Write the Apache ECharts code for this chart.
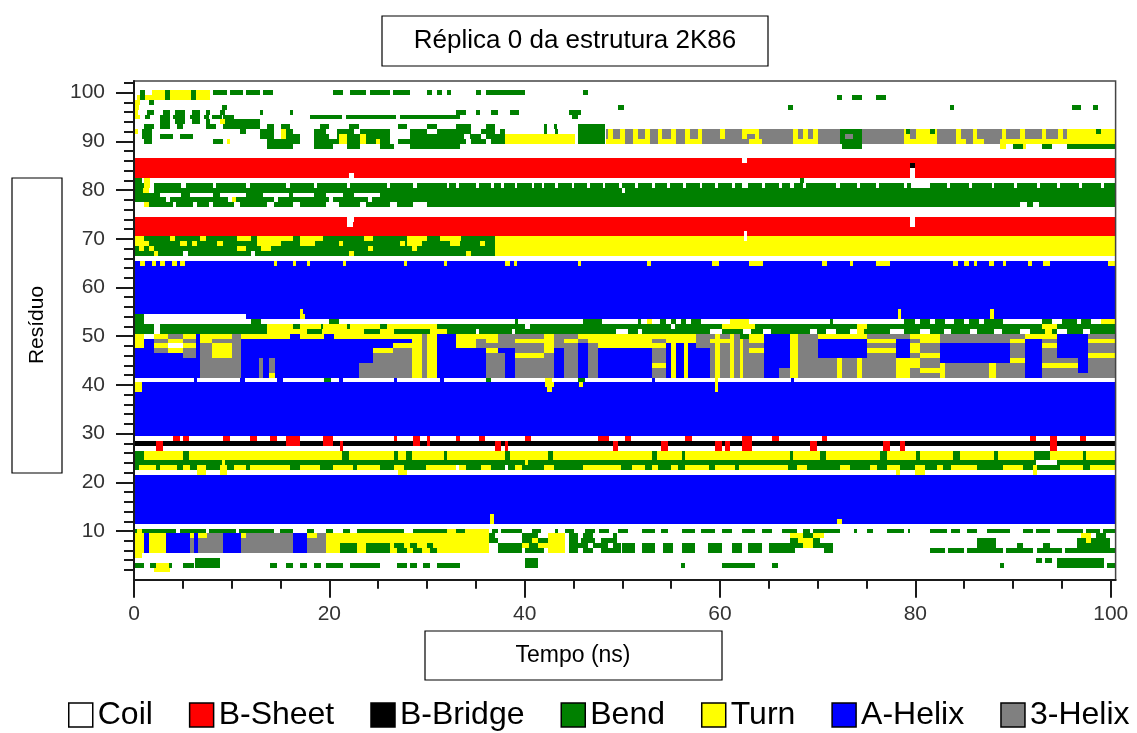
<!DOCTYPE html>
<html><head><meta charset="utf-8">
<script src="https://cdn.jsdelivr.net/npm/echarts@6/dist/echarts.min.js"></script>
<style>html,body{margin:0;padding:0;background:#fff}#chart{width:1137px;height:733px}</style>
</head><body><div id="chart"></div>
<script>
// ---------------- DATA ----------------
const stateCodes = ['C', 'E', 'B', 'S', 'T', 'H', 'G'];
const stateNames = ['Coil', 'B-Sheet', 'B-Bridge', 'Bend', 'Turn', 'A-Helix', '3-Helix'];
const timeTicks = [0, 20, 40, 60, 80, 100];
const timeMinorTicks = [5, 10, 15, 25, 30, 35, 45, 50, 55, 65, 70, 75, 85, 90, 95];
const residueTicks = [10, 20, 30, 40, 50, 60, 70, 80, 90, 100];
const residueMinorTicks = [2, 4, 6, 8, 12, 14, 16, 18, 22, 24, 26, 28, 32, 34, 36, 38, 42, 44, 46, 48, 52, 54, 56, 58, 62, 64, 66, 68, 72, 74, 76, 78, 82, 84, 86, 88, 92, 94, 96, 98, 102];

// each row: "<base state>|<state><from ns>-<to ns> ..." (later segments override earlier ones)
const rows01to10 = [
  "C|",
  "C|T2-3.7",
  "C|S0.1-1 S1.6-2.3 T2.3-3.6 S3.6-3.9 S5-6.1 S6.2-8.8 S13.9-14.6 S15.6-16.3 S17-17.7 S18.4-19.1 S19.7-21.4 S22.1-25.2 S26.9-27.9 S28.3-29 S29.6-30.3 S31-33.4 S40-41.4 S56-56.4 S60.2-63.6 S65.3-65.9 S88.7-89.1 S94.5-99.3 S99.6-100",
  "C|S6.2-8.8 S40-41.4 S92.4-93 S93.3-94 S94.5-99.3",
  "C|T0-0.8",
  "C|T0-1 H1-1.5 T1.5-3.3 H3.3-5.7 G5.7-6.1 H6.1-6.6 G6.6-9.1 H9.1-11 G11-16.3 H16.3-17.7 G17.7-19.7 T19.7-21.1 S21.1-22.8 T22.8-23.8 S23.8-26.2 T26.2-26.9 S26.9-27.9 T27.9-28.6 S28.6-29.5 T29.5-30.3 S30.3-31 T31-36.3 S37.3-39.7 S40-42 T42.4-44.1 S44.5-45.5 S46-47 S47.8-49.9 S50-51.3 S52-53.3 S54.2-55.2 S56.1-57.4 S58.8-60.2 S61.2-62.2 S62.9-64.3 S65-67.7 S70.6-71.6 S81.5-83 S83.3-85 S85.3-89 S89.3-92 S92.5-95 S95.3-100",
  "C|T0-1 H1-1.5 T1.5-3.3 H3.3-5.7 G5.7-6.1 H6.1-6.6 G6.6-9.1 H9.1-11 G11-16.3 H16.3-17.7 G17.7-19.7 T19.7-21.1 S21.1-22.8 T22.8-23.8 S23.8-26.2 T26.2-26.6 S26.6-27.6 T27.6-28.3 S28.3-29 T29-30 S30-30.6 T30.6-36.3 S37.3-39.7 T39.7-40.4 S40.4-41.4 T41.4-44.1 S44.5-45.5 S45.5-46.5 S47-48.5 S49-49.9 S50-51.3 S52-53.3 S54.2-55.2 S56.1-57.4 S58.8-60.2 S61.2-62.2 S62.9-64.3 S65-67.7 S67.7-68.5 T68.5-69.5 S69.5-71.6 S86.3-88.3 S90.4-91 S93.1-93.8 S96.5-99.9",
  "C|T0-1 H1-1.5 T1.5-3.3 H3.3-5.7 G5.7-6.1 H6.1-6.6 G6.6-9.1 H9.1-11 G11-16.3 H16.3-17.7 G17.7-19.7 T19.7-36.3 S36.3-37.3 S39.7-40.7 T40.7-41.4 S41.4-42.4 T42.4-44.1 S44.5-45.5 S45.8-47.2 S47.8-49.5 S67.2-68 T68-69.5 S69.5-70.2 S86.3-88.3 S96.5-97.5 T97.5-98 S98-99.9",
  "C|T0-1 H1-1.5 T1.5-3.3 H3.3-5.7 T5.7-6.1 H6.1-6.6 T6.6-7.5 G7.5-9.1 H9.1-11 T11-11.5 G11.5-16.3 H16.3-17.7 T17.7-18.7 G18.7-19.7 T19.7-36.3 S36.3-37 S39.7-41.4 T42.4-44.1 S44.5-45.5 S46-47 S49-49.5 T67.2-68.5 S68.5-69.5 T69.5-70.6 T97-98 S98.5-99.5",
  "C|S0-0.3 T0.3-0.8 S0.8-4.3 S4.7-7.4 S7.7-10.4 S10.8-14.3 S14.9-16.3 S17.7-18.4 S19.7-20.4 S21.4-22.1 S22.8-27.6 S28.6-32 T32-36.3 S33-33.9 S36.7-37.3 S37.6-39.7 S40.7-41.7 S43.1-43.4 S44.1-45.1 S46.2-47.2 S47.6-48.6 S49.6-50.6 S52-53.3 S54-54.7 S56.1-57.4 S58.1-59.5 S60.2-61.2 S62.2-63.6 S64.3-65.3 S66.3-67.9 S68.5-69.2 S69.5-72.3 S73.7-74 S75-75.7 S77.1-78.8 S79.2-79.5 S81.5-83.2 S83.6-84.6 S85.3-86.3 S87.3-89.7 S91-92 S92.3-93.8 S94.5-97.2 S97.5-98.9 S99.2-100"
];
const rows11to20 = [
  "C|",
  "H|T36.4-36.9 T72-72.5",
  "H|T36.4-36.9",
  "H|", "H|", "H|", "H|", "H|", "H|", "H|"
];
const rows21to30 = [
  "H|",
  "C|T6.4-7.4 T8.8-9.5 T27-28 T78-78.4 T80-81 T92-92.5",
  "S|T0.5-2.3 T2.7-4.4 T5-5.7 T6.4-7.4 T8.8-9.5 T10.2-11.5 T11.9-16 T17-19 T20.4-22.4 T22.8-25.2 T26.6-27.6 T29.9-34 T35.5-36.5 T39-39.7 T42-43 T46-49.9 T51-52.3 T53-53.7 T55-55.7 T56.4-58.9 T59.5-61.5 T61.9-67 T67.9-68.9 T72.3-73.3 T75.4-76.1 T77.1-78.4 T80-81 T82.2-82.8 T83.6-86.3 T89-91 T92-92.5 T94.8-97.2 T97.9-100 C33-33.3 C38-38.3",
  "S|C92.4-94.5 T9-9.3 T40-40.3",
  "T|S0-1 S5-5.6 S21.3-22 S26.6-27 S27.8-28.5 S31.7-32 S38-38.5 S42.4-42.9 S53-53.5 S56.1-56.4 S67.2-67.5 S70.2-70.9 S76.4-77.1 S80.1-80.5 S83.9-84.6 S88-88.5 S92.1-93.8 S97.2-97.5",
  "T|S0-1 S5-5.6 S21.3-22 S26.6-27 S27.8-28.5 S31.7-32 S38-38.5 S42.4-42.9 S53-53.5 S56.1-56.4 S67.2-67.5 S70.2-70.9 S76.4-77.1 S80.1-80.5 S83.9-84.6 S88-88.5 S92.1-93.8 S97.2-97.5",
  "C|E2.3-3 E21.1-21.4 E37-37.6 E38-38.3 E49-49.6 E54-54.7 E59.5-60.2 E60.5-61 E62.3-63.3 E69.2-69.9 E76.7-77.4 E78.4-78.9 E93.8-94.5",
  "B|E2.3-3 E15.6-17 E19.4-20.4 E21.1-21.4 E28.6-29.3 E30-30.3 E37-37.6 E38-38.3 E49-49.6 E54-54.7 E59.5-60.2 E60.5-61 E62.3-63.3 E69.2-69.9 E76.7-77.4 E78.4-78.9 E93.8-94.5",
  "C|E4-4.7 E5-5.6 E9.1-9.8 E11.9-12.6 E13.9-14.6 E15.6-17 E19.4-20.4 E26.6-26.9 E28.6-29.3 E30-30.3 E33-33.4 E35.3-35.9 E40-40.6 E47.5-48.6 E50.3-50.9 E56.4-57.1 E62.3-63.3 E65.3-66 E70.4-71 E91.7-92.4 E93.8-94.5 E96.9-97.5",
  "H|"
];
const rows31to41 = [
  "H|", "H|", "H|", "H|", "H|", "H|", "H|", "H|",
  "H|T0-0.8 T42.3-42.8 T59.5-59.8",
  "H|T0-0.8 T42.1-43 T45.6-46 T59.5-59.8",
  "C|H6.1-6.4 H10.9-11.4 H14.6-15.3 S19.5-20.2 H21-21.4 H26.6-26.9 H31.3-31.7 S36-36.6 T42.1-42.8 S45.5-46.2 H53-53.3 T59.5-59.8 H67.3-67.6"
];
// residues 42-50: [from ns, to ns, states of residues 50,49,48,47,46,45,44,43,42]
const mixedBlock42to50 = [
  [0, 1, "TTTHHHHHH"], [1, 2, "CHHHHHHHH"], [2, 3.5, "TGTGHHHHH"], [3.5, 5, "GTCTHHHHH"],
  [5, 6.3, "TGTGGHHHH"], [6.3, 6.8, "HHHHHHHHH"], [6.8, 8, "TTGGGGGGG"], [8, 10, "TGTTTGGGG"],
  [10, 11, "GGGGGGGGG"], [11, 12.8, "THHHHHHHH"], [12.8, 13.2, "THHHHGGGG"], [13.2, 13.8, "THHHHHHHH"],
  [13.8, 14.4, "THHHHGGGT"], [14.4, 16, "THHHHHHHH"], [16, 17, "HHHHHHHHH"], [17, 19.5, "THHHHHHHH"],
  [19.5, 20.5, "HHHHHHHHH"], [20.5, 23, "THHHHHHHH"], [23, 24.5, "THHHHHGGG"], [24.5, 26.5, "THHTGGGGG"],
  [26.5, 28.5, "THTGGGGGG"], [28.5, 29.5, "TTTTTTTTT"], [29.5, 30, "GGGGGGGGG"], [30, 31, "TTTTTTTTT"],
  [31, 33, "HHHHHHHHH"], [33, 35, "TTTHHHHHH"], [35, 36, "TGGHHHHHH"], [36, 37.3, "TTGTGGGGG"],
  [37.3, 38, "GGGHGGGGG"], [38, 39, "GGGHHHHHH"], [39, 42, "GTGGTGGGG"], [42, 43, "TTTTGGGGG"],
  [43, 44, "GGGHHHHHH"], [44, 45.5, "GTGGGGGGG"], [45.5, 46.5, "TGHHHHHHH"], [46.5, 47.5, "TTGGGGGGG"],
  [47.5, 53, "TTTHHHHHH"], [53, 54.5, "TGTGGGTGG"], [54.5, 55, "TTHHHHHHH"], [55, 55.5, "TTTTTTTTT"],
  [55.5, 56.3, "TTHHHHHHH"], [56.3, 56.7, "TTTTTTTTT"], [56.7, 57.5, "TTHHHHHHH"], [57.5, 59, "GGGHHHHHH"],
  [59, 59.5, "GTGGGGGGG"], [59.5, 60, "TTTTTTTTT"], [60, 61, "GTGGGGGGG"], [61, 61.4, "TTTTTTTTT"],
  [61.4, 62, "GGGGGGGGG"], [62, 62.4, "STTTTTTTT"], [62.4, 63, "SGGGGGGGG"], [63, 64.5, "TTGTGGGGG"],
  [64.5, 66, "HHHHHHHHH"], [66, 67.2, "HHHHHHHGG"], [67.2, 68, "TTTTTTTTT"], [68, 70, "GGGGGGGGG"],
  [70, 72, "THHHHGGGG"], [72, 72.5, "THHHHTTTT"], [72.5, 74, "THHHHGGGG"], [74, 74.5, "THHHHTTTT"],
  [74.5, 75, "THHHHGGGG"], [75, 78, "GTGTGGGGG"], [78, 79.4, "GHHHHTTTT"], [79.4, 80.5, "TGTTGTTGG"],
  [80.5, 82.5, "TTGGTGGTG"], [82.5, 83, "GGHHHHTTT"], [83, 87.5, "GGHHHHGGG"], [87.5, 88.3, "GGHHHHTTT"],
  [88.3, 89.7, "GGHHHHGGG"], [89.7, 91.2, "GTGGGTGGG"], [91.2, 93, "THHHHHHHH"], [93, 94.5, "TGTGGGTGG"],
  [94.5, 96.7, "HHHHHGTGG"], [96.7, 97.7, "HHHHHHHHG"], [97.7, 100, "GTGGTGGGG"]
];
const rows51to60 = [
  "S|C2-2.7 T13.6-17.7 T19.2-23.5 T25.2-26.6 T30.3-32 C35-35.3 C38.7-39 C49.3-50.6 C51.6-52 C59-60.2 C62.4-63.2 C64.4-65.2 C69.2-69.9 C70.9-71.9 C73.3-74 T74-74.7 C77.4-78.8 C80.5-81.5 C82.9-83.6 C85.6-86.3 C88-88.9 C90.7-91.7 T93.3-94 C94.5-95.5 C97.2-97.9",
  "S|C2-2.7 T13.6-16.3 T17-19.1 T19.4-21.8 T22.1-25.2 T25.9-31 C40-40.5 C55-55.4 T60.2-63.6 T74-75 T93-94.5",
  "C|S0-1 S12-13 S20-21 S39-39.3 S46-47.9 S51.6-51.9 T52.5-53 S53.9-54.5 S55-55.5 S56-56.5 S57-58.1 T61-63 S71.3-71.6 S78.8-80 S80.5-81.5 S82-83 S84-85 S85.5-86.5 S87-89 S93-94 S95-96.5 S97-98 T99-100",
  "H|S0-1 C1-11.5 T17-17.5 T78.2-78.5 T87.6-88",
  "H|T17-17.3 T78.2-78.5 T87.6-88",
  "H|", "H|", "H|", "H|", "H|"
];
const rows61to70 = [
  "H|", "H|", "H|", "H|",
  "H|T0.6-1.1 T1.8-2.3 T2.7-3.2 T3.9-4.4 T4.7-5.2 T14.3-14.6 T16.3-16.6 T17.7-18 T21.4-21.7 T27.6-27.9 T31.7-32 T38-38.5 T38.9-39.2 T45.5-45.8 T52.5-52.9 T59.2-59.9 T63-64.4 T70.4-71 T73.3-73.6 T76-77.4 T83.9-84.4 T85-85.5 T86-86.3 T87.5-88 T89-89.3 T91.5-91.9 T93.1-93.8 T99.7-100",
  "C|",
  "S|T2-2.5 C5-5.5 C12-12.4 T22-22.5 T34-34.5 T37-100",
  "S|T0.5-1 T1.5-2 T10.5-11.5 T13-14 T24-24.5 T28.5-29 T37-100",
  "S|T0-1.5 T4.7-5.4 T5.9-6.4 T8.5-9.1 T12.6-15 T17-18.5 T21-21.4 T27.2-27.7 T28-29.5 T32.4-33.4 T35.4-35.9 T37-100",
  "S|T0-1 T3.7-4.2 T6.8-7.4 T10.5-12 T12.6-16.3 T17-19.4 T23.5-24.5 T27.9-30 T31.3-33.5 T37-100 C62.5-62.8"
];
const rows71to80 = [
  "E|C62.5-62.8",
  "E|",
  "E|C21.8-22.4 C79.5-80",
  "E|C21.8-22.5 C79.5-80",
  "C|",
  "C|",
  "S|C0-1 T1-1.5 C4-4.3 C6-6.5 C7.7-8.1 C10.2-10.9 C13.6-14.3 C16.3-17 C19.7-21 C23.1-23.8 C26.2-26.9 C28.6-30 C90.7-91.4 C92-92.7",
  "S|C3.3-3.7 C9.6-10 T10-10.4 C14.3-14.7 C20-20.4 C24-24.4",
  "S|C2.7-4.8 C5.7-8.1 C8.8-11.5 C13.2-15.9 C16.3-18.4 C19.7-21.4 C22.5-25.2",
  "S|T0.9-1.5 C1.5-2 C50-50.3"
];
const rows81to90 = [
  "S|T1-1.6 C1.6-2 C4.8-5.3 C8.1-8.4 C11.5-11.9 C15.6-16 C18.4-18.7 C21.8-22.1 C25.9-26.2 C28.6-29 C32-32.3 C33-33.3 C35-35.3 C36.6-36.9 C37.6-37.9 C39-39.2 C40.7-41 C41.8-42 C43.1-43.4 C44.8-45 C46.4-46.7 C48-48.2 C49.7-50 C51.3-51.6 C53-53.3 C54.6-54.9 C56.2-56.5 C57.9-58.2 C59.5-59.8 C61.2-61.5 C62.3-62.9 C64.3-64.6 C66-66.3 C67.2-67.6 C68.5-68.8 C71.9-72.3 C74-74.3 C76-76.3 C78.8-79.1 C79.6-81.5 C83.2-83.5 C85.5-85.8 C87.8-88.1 C90.1-90.4 C92.5-92.8 C94.5-94.8 C96.8-97.1 C99-99.3",
  "C|S0-0.8 T1-1.6 S68.2-68.6",
  "E|C22-22.5 C79.5-80",
  "E|C79.5-80",
  "E|B79.5-80",
  "E|C62.3-62.8",
  "C|",
  "C|",
  "C|S13.6-16.3 S18.4-20.4 S21.8-23.1 S25.2-26.6 S28.3-33.4 S72.5-74.5 T88.7-89.3 S90-91 T91-91.3 S93-94 S95.5-100",
  "C|S1-1.8 S8.1-9.1 T9.5-9.8 S13.6-33.4 C17-18.4 C26.2-27 T21-21.8 T23.1-23.8 T24.8-25.2 S33-38 C34-34.5 C36-36.6 T38-45.2 S45.5-48.2 T48.3-50.3 G50.3-51.1 T51.1-52.8 G52.8-53.6 T53.6-55.5 G55.5-56.4 T56.4-58.2 G58.2-63 T63-64.3 G64.3-67.5 T67.5-70 G70-72.3 S72.3-74.5 G74.5-78.8 T78.8-82.2 G82.2-84.2 T84.2-85.2 G85.2-85.9 T85.9-87 G87-88.7 T88.7-100"
];
const rows91to101 = [
  "C|S0.8-1.8 S2.7-4 S4.7-6 S12.9-33.4 C14.3-15 C17-18.4 C20-20.8 C26.2-28.3 T15-15.6 T21-21.8 T23.1-23.8 S33-38 C33.8-34.4 C35.5-36 T38-45.2 S45.5-48.2 G48.3-100 T48.5-49 T49.8-50.3 T51.1-51.6 T52.3-52.8 T53.6-54.1 T55-55.5 T56.4-56.9 T57.7-58.2 T60-60.5 T62.3-62.8 T63.6-64 T67.5-68 T68.5-69 T69.5-70 S72.3-72.8 S73.6-74.5 T78.8-79.5 T80.1-82.2 T84.2-84.7 T85.9-86.3 T88.9-89.3 T90.7-91.2 T93-93.4 T94.6-95.1 T95.5-100",
  "C|T0-0.4 S0.8-1.8 S10.9-11.5 S12.9-33.4 C14.3-15 C16.3-18.4 C19.7-20.8 C22.5-23.1 C26.2-28.3 C30-31 T15-15.6 S33-38 C34.5-35.5 C37-37.5 S42-42.3 S43.1-43.4 S45.5-48.2 G48.3-100 T48.5-49 T49.8-50.3 T51.1-51.6 T52.3-52.8 T53.6-54.1 T55-55.5 T56.4-56.9 T57.7-58.2 T60-60.5 T62.3-64 T67.5-68 T68.5-69 T69.5-70 S72.3-74.5 T78.8-79.5 S79-79.4 T80.1-82.2 S81.5-82 T84.2-84.7 T85.9-86.3 T88.9-89.3 T90.7-91.2 T93-93.4 T94.6-95.1 T95.5-100 S98.5-99",
  "C|S1-2 S2.7-3.7 S4.4-5 S7.4-8.4 S9.1-11.5 S11.5-12.9 S13.6-14.3 S15-16 S19-20 S22-23 S27-28 S30-31 S33-34.5 S36-37 S42-42.3 S43-43.3 S45.5-48.2",
  "C|S2.7-3.7 S4.2-5.2 S5.9-6.8 S7.4-7.8 T8.8-9.3 S9.3-11.5 S11.5-12.9",
  "C|T0-0.6 S1.1-1.6 S2.7-3.7 S4-5.2 S5.7-6.8 S7.2-7.7 S8-9 S9.1-10.2 S18-21.3 S21.7-26.8 S27.2-33.4 S44.8-45.5",
  "C|T0-0.4 S1.3-2 S3-3.7 S4.2-5.2 S5.9-6.8 S7.4-7.8 S8.8-9.3 S12.9-13.2 S16-16.3 S33-34 S35-35.4 S36.6-37.3 S38.5-39.4 S44.5-45.8",
  "C|T0-0.5 S9-9.5 S49.6-50.2 S67-67.5 S83.5-84 S96-97 S98.2-98.7",
  "C|T0-0.6 S1.5-2",
  "C|T0.3-7.8 S0.6-1.1 S3.2-3.7 S5.8-6.3 S72-72.5 S73.5-74.5 S76-77",
  "C|S0.6-1.1 T1.8-7.8 S3.2-3.7 S5.8-6.3 S8.1-9.5 S9.8-11.2 S11.5-12.9 S13.2-14.2 S20.4-21.4 S22.1-23.8 S24.2-26.2 S26.5-28.3 S30-30.5 S31-31.5 S32-32.5 S35-35.5 S36-40 S46-46.5",
  "C|"
];

// ---------------- STYLE ----------------
const stateColors = { C: '#ffffff', E: '#ff0000', B: '#000000', S: '#008000', T: '#ffff00', H: '#0000ff', G: '#808080' };
const FONT = "'Liberation Sans', Arial, Helvetica, sans-serif";

// ---------------- BUILD ----------------
const N = 1005; // 0.1 ns cells, 0 .. 100.5 ns
function applySeg(cells, code, a, b) {
  const i0 = Math.max(0, Math.round(a * 10));
  const i1 = b >= 100 ? N : Math.round(b * 10);
  for (let i = i0; i < i1; i++) cells[i] = code;
}
function parseRow(str) {
  const parts = str.split('|');
  const cells = new Array(N).fill(parts[0]);
  const rest = (parts[1] || '').trim();
  if (rest) rest.split(/\s+/).forEach(tok => {
    const m = tok.match(/^([A-Z])([\d.]+)-([\d.]+)$/);
    if (m) applySeg(cells, m[1], +m[2], +m[3]);
  });
  return cells;
}
const rowMap = {};
function addGroup(start, arr) { arr.forEach((s, i) => { rowMap[start + i] = parseRow(s); }); }
addGroup(1, rows01to10); addGroup(11, rows11to20); addGroup(21, rows21to30); addGroup(31, rows31to41);
addGroup(51, rows51to60); addGroup(61, rows61to70); addGroup(71, rows71to80); addGroup(81, rows81to90);
addGroup(91, rows91to101);
for (let r = 42; r <= 50; r++) {
  const cells = new Array(N).fill('C');
  mixedBlock42to50.forEach(([a, b, codes]) => applySeg(cells, codes[50 - r], a, b));
  rowMap[r] = cells;
}
const seriesData = {}; stateCodes.forEach(c => seriesData[c] = []);
Object.keys(rowMap).forEach(k => {
  const r = +k, cells = rowMap[k];
  let s = 0;
  for (let i = 1; i <= N; i++) {
    if (i === N || cells[i] !== cells[s]) {
      if (cells[s] !== 'C') seriesData[cells[s]].push([s / 10, i / 10, r]);
      s = i;
    }
  }
});

function renderItem(params, api) {
  const a = api.coord([api.value(0), api.value(2) + 0.5]);
  const b = api.coord([api.value(1), api.value(2) - 0.5]);
  const x0 = Math.round(a[0]), x1 = Math.round(b[0]), y0 = Math.round(a[1]), y1 = Math.round(b[1]);
  return { type: 'rect', shape: { x: x0, y: y0, width: x1 - x0, height: y1 - y0 }, style: { fill: api.visual('color') } };
}

const series = stateCodes.map((c, i) => ({
  type: 'custom', name: stateNames[i], coordinateSystem: 'cartesian2d',
  xAxisIndex: 0, yAxisIndex: 0, clip: true,
  encode: { x: [0, 1], y: 2 },
  itemStyle: { color: stateColors[c] },
  renderItem: renderItem,
  data: seriesData[c], silent: true
}));

const axisColor = '#1a1a1a';
const chart = echarts.init(document.getElementById('chart'), null, { renderer: 'canvas' });
chart.setOption({
  animation: false,
  backgroundColor: '#ffffff',
  grid: { left: 134, top: 81, width: 981.6, height: 498.7, show: true, borderColor: '#444', borderWidth: 1.5, backgroundColor: 'transparent', z: 5 },
  xAxis: [
    { type: 'value', min: 0, max: 100.5, position: 'bottom', z: 10,
      axisLine: { show: true, lineStyle: { color: axisColor, width: 2 } },
      axisTick: { show: true, customValues: timeTicks, length: 18, lineStyle: { color: axisColor, width: 2 } },
      axisLabel: { customValues: timeTicks, fontSize: 21, color: '#333', margin: 24, fontFamily: FONT },
      splitLine: { show: false } },
    { type: 'value', min: 0, max: 100.5, position: 'bottom', z: 10,
      axisLine: { show: false },
      axisTick: { show: true, customValues: timeMinorTicks, length: 9, lineStyle: { color: axisColor, width: 2 } },
      axisLabel: { show: false }, splitLine: { show: false } }
  ],
  yAxis: [
    { type: 'value', min: 0, max: 102.4, position: 'left', z: 10,
      axisLine: { show: true, lineStyle: { color: axisColor, width: 2 } },
      axisTick: { show: true, customValues: residueTicks, length: 18, lineStyle: { color: axisColor, width: 2 } },
      axisLabel: { customValues: residueTicks, fontSize: 21, color: '#333', margin: 29, fontFamily: FONT },
      splitLine: { show: false } },
    { type: 'value', min: 0, max: 102.4, position: 'left', offset: 0, z: 10,
      axisLine: { show: false },
      axisTick: { show: true, customValues: residueMinorTicks, length: 10, lineStyle: { color: axisColor, width: 2 } },
      axisLabel: { show: false }, splitLine: { show: false } }
  ],
  legend: {
    data: stateNames, left: 68, top: 699, width: 1069, padding: 0, icon: 'rect', itemWidth: 24, itemHeight: 24, itemGap: 36,
    itemStyle: { borderColor: '#000', borderWidth: 1.5 },
    textStyle: { fontSize: 32, color: '#000', fontFamily: FONT }, selectedMode: false
  },
  graphic: [
    { type: 'rect', shape: { x: 382, y: 16, width: 386, height: 50 }, style: { fill: '#fff', stroke: '#000', lineWidth: 1.2 } },
    { type: 'text', x: 575, y: 41, style: { text: 'Réplica 0 da estrutura 2K86', fontSize: 26, fontFamily: FONT, fill: '#000', align: 'center', verticalAlign: 'middle' } },
    { type: 'rect', shape: { x: 12, y: 178, width: 50, height: 295 }, style: { fill: '#fff', stroke: '#000', lineWidth: 1.2 } },
    { type: 'text', x: 37, y: 325, rotation: Math.PI / 2, style: { text: 'Resíduo', fontSize: 21, fontFamily: FONT, fill: '#000', align: 'center', verticalAlign: 'middle' } },
    { type: 'rect', shape: { x: 425, y: 631, width: 297, height: 49 }, style: { fill: '#fff', stroke: '#000', lineWidth: 1.2 } },
    { type: 'text', x: 573, y: 656, style: { text: 'Tempo (ns)', fontSize: 23, fontFamily: FONT, fill: '#000', align: 'center', verticalAlign: 'middle' } }
  ],
  series: series
});
</script>
</body></html>
